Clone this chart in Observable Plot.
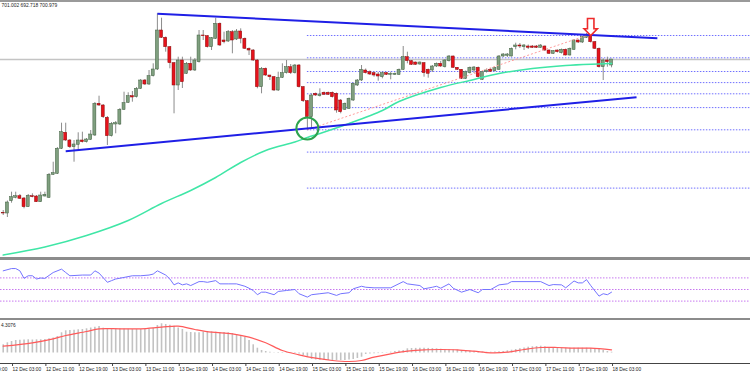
<!DOCTYPE html>
<html><head><meta charset="utf-8">
<script src="https://cdn.jsdelivr.net/npm/d3@7"></script>
<script src="https://cdn.jsdelivr.net/npm/@observablehq/plot@0.6"></script>
<style>
body{margin:0;background:#fff;}
#wrap{position:relative;width:750px;height:375px;overflow:hidden;background:#fff;font-family:"Liberation Sans",Arial,sans-serif;}
#wrap svg{position:absolute;left:0;overflow:visible;}
.sep{position:absolute;left:0;width:750px;}
</style></head><body><div id="wrap"></div>
<script>
// ---- candle data (hourly, index 0 = 12 Dec 01:00) ----
const open = [547.5,547.0,559.3,562.7,564.3,562.0,553.3,564.3,564.0,558.3,
564.0,562.7,585.7,586.7,611.7,627.7,620.0,613.3,615.7,620.0,
618.3,620.7,625.0,656.7,655.0,642.7,624.3,636.0,636.0,650.7,
657.7,664.3,663.3,671.7,680.0,676.0,684.3,691.0,730.0,722.7,
713.3,697.3,675.0,700.0,686.7,696.7,690.0,698.3,725.0,724.3,
713.3,721.7,736.7,720.0,719.0,728.3,721.0,729.0,721.7,711.7,
710.0,700.0,673.3,691.7,685.0,683.3,670.0,682.7,687.3,693.3,
687.3,695.0,673.3,659.3,643.3,666.7,664.3,667.7,667.7,667.7,
666.7,660.0,650.7,651.7,660.0,675.0,680.0,690.0,688.3,687.3,
686.0,683.3,687.3,685.7,685.7,685.7,690.7,703.3,699.3,698.0,
696.0,697.3,690.7,690.0,694.0,696.7,693.3,699.3,704.0,692.7,
690.7,681.7,687.3,690.0,692.7,680.7,688.3,690.7,689.3,690.7,
704.0,704.7,704.0,713.3,715.0,713.3,714.0,714.0,714.0,712.7,
714.0,710.0,706.7,710.0,707.3,710.7,705.0,710.7,720.0,718.0,
722.7,725.0,718.3,711.7,693.3,700.0,695.0];
const close = [547.0,558.0,563.3,564.3,561.7,553.3,564.7,563.3,558.3,565.0,
565.7,585.7,587.3,611.7,628.3,620.0,613.3,616.0,620.0,618.3,
621.0,626.0,656.7,655.0,643.3,624.3,636.7,637.3,650.7,657.3,
664.3,663.0,671.7,680.0,676.0,684.3,691.0,730.0,722.7,713.3,
697.3,675.0,700.0,678.3,696.7,690.0,700.0,725.0,724.3,713.3,
722.3,736.7,715.0,718.3,728.3,720.0,729.0,721.7,711.7,710.0,
700.0,673.3,691.7,685.0,683.3,670.0,682.7,687.3,693.3,687.3,
695.0,673.3,659.3,643.3,665.0,665.0,666.0,665.7,665.7,663.3,
650.0,648.3,656.7,661.7,676.7,680.0,690.7,687.3,686.0,685.0,
684.0,687.3,685.7,686.7,686.7,690.7,703.3,699.3,695.7,695.7,
698.0,687.3,686.7,694.0,696.7,694.0,700.0,704.0,692.7,690.7,
681.7,688.3,692.7,693.0,683.3,688.3,690.0,688.7,692.3,704.0,
706.0,706.0,711.7,715.0,714.0,715.0,712.7,712.7,712.7,715.0,
710.0,706.7,709.3,708.3,710.7,705.0,711.7,720.0,718.0,723.3,
725.0,718.3,711.7,693.3,700.0,698.3,701.0];
const high = [550.0,559.5,568.3,568.3,566.0,563.0,566.0,566.7,565.0,568.3,
568.3,587.0,598.3,613.0,637.3,637.3,621.0,620.0,627.7,628.3,
622.0,630.0,658.0,664.3,656.0,644.0,638.0,639.0,652.0,668.3,
667.7,669.0,673.0,681.0,681.0,690.0,696.7,746.7,742.3,723.5,
714.0,698.0,703.3,703.3,698.0,703.3,702.0,730.0,730.0,725.0,
723.0,742.3,737.5,728.3,730.0,730.0,731.0,731.7,722.5,712.5,
711.0,701.0,693.0,692.5,685.0,684.0,688.3,696.7,700.0,696.0,
696.0,696.0,674.0,660.0,666.7,667.5,671.7,668.5,668.5,668.5,
667.5,661.0,657.5,662.5,677.5,681.0,695.0,691.5,689.5,688.5,
688.0,688.3,688.0,688.3,687.5,691.5,714.0,708.3,700.0,698.5,
698.5,698.0,691.5,695.0,697.5,699.0,701.0,705.0,704.5,693.0,
691.0,689.5,693.5,694.0,693.5,689.0,691.5,692.0,693.0,705.0,
707.0,707.0,712.5,717.3,717.0,716.0,715.5,715.0,715.0,716.0,
714.5,710.5,710.0,710.5,711.5,711.5,712.5,721.0,720.5,724.0,
727.0,726.7,719.0,712.5,701.7,703.3,701.0];
const low = [545.0,543.0,557.3,561.7,561.0,551.7,553.0,562.7,558.0,558.0,
563.5,562.0,585.0,586.0,611.0,619.0,612.0,598.3,610.0,617.5,
617.5,620.0,624.0,654.0,642.0,615.0,623.5,626.7,635.0,650.0,
657.0,658.3,662.5,671.0,675.0,675.0,683.5,690.0,722.0,708.3,
691.7,646.7,670.0,672.0,686.0,689.0,689.0,697.5,720.0,712.5,
710.0,721.0,714.0,716.7,718.0,706.7,720.0,716.7,711.0,705.0,
699.0,671.7,666.7,684.0,680.0,669.0,669.0,682.0,686.5,686.0,
686.5,672.5,658.0,630.0,631.7,664.0,663.5,665.0,665.0,662.5,
647.3,646.7,650.0,651.0,659.0,674.0,679.0,686.5,685.0,683.3,
679.3,681.7,685.0,680.7,685.0,685.0,690.0,696.7,695.0,695.0,
695.3,683.3,682.3,688.0,693.0,693.0,692.5,698.5,692.0,690.0,
681.0,681.0,686.5,687.0,682.5,680.0,687.5,688.0,688.5,690.0,
703.0,703.0,703.5,710.7,712.0,710.0,711.0,712.0,712.0,712.0,
709.0,706.0,706.0,707.5,706.5,704.5,704.5,710.0,717.0,717.0,
722.0,717.5,711.0,692.5,680.0,693.3,692.7];
const headerText = "701.002 692.718 700.979";
const lastClose = 700.979;

// moving average (read at sample candles)
const maIdx = [0,10,20,30,38,45,51,57,63,70,73,76,83,91,95,105,113,119,127,135,143,146];
const maVal = [505.5,513.5,525,540,557,570,583,598,610,618.5,623,627,637,650,659,673,681,687,692,695,696.5,697];

// drawn objects
const trendStartIdx = [37, 15];
const trendStartPrice = [746.7, 609.3];
const trendEndIdx = [157, 152];
const trendEndPrice = [722.3, 663.3];
const fibStartIdx = 73, fibEndIdx = 140;
const fibLowPrice = 630.7, fibHighPrice = 725.0;
const fibLevels = [725.0, 702.7, 689.0, 677.9, 666.7, 652.9, 630.7, 608.4, 572.4];
const circleIdx = [73], circlePrice = [632];
const arrowIdx = [141], arrowPrice = [733.5];

// RSI
const rsiLevels = [70, 50, 30];
const rsiIdx = [0,2,3,4,5,6,7,8,9,10,12,14,15,16,19,21,22,23,25,26,27,29,31,33,35,36,37,39,40,41,42,43,44,45,47,48,49,51,52,54,56,58,59,60,61,62,63,65,66,68,70,71,73,74,76,78,80,81,83,84,86,87,89,93,96,97,100,101,103,104,105,107,108,110,112,114,115,117,119,121,122,129,131,132,134,135,137,138,139,140,141,143,144,145,146];
const rsiVal = [82.2,86.1,86.1,82.2,69.2,73.7,73.7,68.1,69.8,69.2,79.3,85.1,79.3,73.7,74.9,74.9,82.2,78.3,62.4,65.3,68.1,70.8,73.7,73.7,74.9,76.6,82.2,74.9,68.1,58.0,61.4,58.0,59.7,56.8,63.6,63.6,62.4,65.3,59.7,59.7,59.7,55.6,52.2,48.3,41.0,45.4,45.4,41.0,46.6,48.3,50.0,42.7,36.9,41.0,42.7,44.4,39.8,42.7,44.4,51.2,55.6,53.9,52.9,52.9,63.6,59.7,56.8,51.2,53.9,55.6,52.2,59.7,52.2,45.4,50.0,44.4,50.0,50.0,58.0,59.7,63.6,63.6,56.8,58.5,58.0,52.9,64.7,61.4,61.4,67.0,56.8,38.6,42.7,41.0,45.4];

// MACD
const macdLabel = "4.3076";
const macdHist = [8.2,10.2,11.5,12.5,12.8,13.0,13.2,13.0,13.2,13.2,
13.5,14.2,15.0,16.5,20.2,22.2,22.5,22.8,23.2,23.5,
24.2,25.0,25.8,26.5,24.8,23.8,23.5,24.0,24.2,24.0,
23.8,23.5,23.5,23.5,23.5,24.0,24.8,27.5,29.2,28.5,
27.8,26.8,25.0,23.5,20.8,20.5,20.2,20.2,21.0,21.5,
21.2,20.8,20.5,20.4,20.2,19.5,18.2,17.0,15.8,12.5,
8.2,4.8,2.5,1.5,0.8,-0.3,-0.5,-0.5,-0.4,-0.5,
-0.6,-1.0,-2.5,-4.2,-6.5,-7.0,-7.3,-7.5,-7.5,-7.5,
-7.6,-7.5,-7.5,-7.0,-6.5,-5.5,-4.2,-1.5,-1.0,-0.8,
-0.6,-0.5,-0.3,0.8,1.5,2.0,2.5,4.2,4.5,4.6,
4.8,4.8,4.6,4.4,4.2,3.8,3.5,3.2,3.0,2.8,
2.5,2.2,1.8,1.5,1.2,1.0,0.8,0.8,1.0,1.2,
1.5,2.2,2.8,3.5,4.2,5.0,5.8,6.2,6.5,6.8,
6.2,5.5,5.2,5.0,4.8,4.8,4.8,4.8,4.8,4.8,
4.8,4.5,4.0,3.5,2.5,1.5,0.8];
const sigIdx = [0,7,12,15,20,23,28,33,38,42,46,50,55,59,63,67,71,75,79,83,86,89,93,97,101,105,109,113,117,121,125,129,133,137,141,146];
const sigVal = [6.8,10.2,14.2,17.5,21.5,24.2,24.2,24.2,25.8,26.8,23.5,20.8,19.2,15.8,10.2,2.5,-1.8,-5.2,-7.5,-8.5,-7.5,-4.2,-0.8,1.8,3.2,3.5,3.2,1.8,0.2,0.8,3.5,5.5,5.5,4.8,4.8,3.2];

// time axis
const tickIdx = [-6,2,10,18,26,34,42,50,58,66,74,82,90,98,106,114,122,130,138,146];
const tickLabels = ["11 Dec 19:00","12 Dec 03:00","12 Dec 11:00","12 Dec 19:00","13 Dec 03:00","13 Dec 11:00","13 Dec 19:00","14 Dec 03:00","14 Dec 11:00","14 Dec 19:00","15 Dec 03:00","15 Dec 11:00","15 Dec 19:00","16 Dec 03:00","16 Dec 11:00","16 Dec 19:00","17 Dec 03:00","17 Dec 11:00","17 Dec 19:00","18 Dec 03:00"];

// ---- build ----
const xDomain = [-0.65, 179.35];
const candles = open.map((o, k) => ({i: k, open: o, high: high[k], low: low[k], close: close[k]}));
const bullFill = "#7f9f7f", bullStroke = "#3f5f3f", bearFill = "#e5121b", bearStroke = "#8a0a0a";

const downArrow = {
  draw(ctx, size) {
    const r = Math.sqrt(size / Math.PI);
    const p = [[-0.38,-1],[0.38,-1],[0.38,0.2],[0.78,0.2],[0,1],[-0.78,0.2],[-0.38,0.2]];
    ctx.moveTo(p[0][0]*r, p[0][1]*r);
    for (let k = 1; k < p.length; k++) ctx.lineTo(p[k][0]*r, p[k][1]*r);
    ctx.closePath();
  }
};

const font = "Liberation Sans, Arial, sans-serif";
const wrap = document.getElementById("wrap");

const mainPlot = Plot.plot({
  width: 750, height: 257, margin: 0,
  style: {fontFamily: font, background: "transparent"},
  x: {domain: xDomain, axis: null},
  y: {domain: [503, 760], axis: null},
  marks: [
    Plot.ruleY([lastClose], {stroke: "#c4c4c4", strokeWidth: 1.5}),
    Plot.ruleY(fibLevels, {y: d => d, x1: () => fibStartIdx, x2: () => xDomain[1], stroke: "#7070ff", strokeWidth: 1, strokeDasharray: "1.5,1.5"}),
    Plot.ruleX(candles, {x: "i", y1: "low", y2: "high", stroke: "#8c8c8c", strokeWidth: 1}),
    Plot.rect(candles, {x1: d => d.i - 0.36, x2: d => d.i + 0.36, y1: "open", y2: "close",
      fill: d => d.close >= d.open ? bullFill : bearFill,
      stroke: d => d.close >= d.open ? bullStroke : bearStroke, strokeWidth: 0.5}),
    Plot.line(maIdx, {x: d => d, y: (d, k) => maVal[k], curve: "catmull-rom", stroke: "#3fe6a6", strokeWidth: 1.5}),
    Plot.link([fibStartIdx], {x1: d => d, y1: () => fibLowPrice, x2: () => fibEndIdx, y2: () => fibHighPrice, stroke: "#ff9c9c", strokeWidth: 1, strokeDasharray: "2,2"}),
    Plot.link(trendStartIdx, {x1: d => d, y1: (d, k) => trendStartPrice[k], x2: (d, k) => trendEndIdx[k], y2: (d, k) => trendEndPrice[k], stroke: "#1f1fe6", strokeWidth: 2}),
    Plot.dot(circleIdx, {x: d => d, y: (d, k) => circlePrice[k], r: 11, stroke: "#2ea44f", strokeWidth: 2, fill: "none"}),
    Plot.dot(arrowIdx, {x: d => d, y: (d, k) => arrowPrice[k], r: 8.5, symbol: downArrow, fill: "white", stroke: "#ee2b2b", strokeWidth: 1.6}),
    Plot.text([headerText], {text: d => d, frameAnchor: "top-left", dx: 1, dy: 3, lineAnchor: "top", textAnchor: "start", fontSize: 4.9, fill: "#222"})
  ]
});
mainPlot.style.top = "0px";
wrap.appendChild(mainPlot);

const rsiPlot = Plot.plot({
  width: 750, height: 58, margin: 0,
  style: {fontFamily: font, background: "transparent"},
  x: {domain: xDomain, axis: null},
  y: {domain: [0, 100], axis: null},
  marks: [
    Plot.ruleY(rsiLevels, {stroke: "#c878f0", strokeWidth: 1, strokeDasharray: "1.5,1.5"}),
    Plot.line(rsiIdx, {x: d => d, y: (d, k) => rsiVal[k], stroke: "#7474ff", strokeWidth: 1})
  ]
});
rsiPlot.style.top = "260px";
wrap.appendChild(rsiPlot);

const labelMap = new Map(tickIdx.map((d, k) => [d, tickLabels[k]]));
const macdPlot = Plot.plot({
  width: 750, height: 55, marginTop: 0, marginLeft: 0, marginRight: 0, marginBottom: 12,
  style: {fontFamily: font, background: "transparent", fontSize: "4.8px", color: "#222"},
  x: {domain: xDomain},
  y: {domain: [-10.5, 32.5], axis: null},
  marks: [
    Plot.ruleX(macdHist, {x: (d, k) => k, y1: 0, y2: d => d, stroke: "#c2c2c2", strokeWidth: 1.6}),
    Plot.line(sigIdx, {x: d => d, y: (d, k) => sigVal[k], curve: "catmull-rom", stroke: "#ff5a5a", strokeWidth: 1.2}),
    Plot.text([macdLabel], {text: d => d, frameAnchor: "top-left", dx: 0.5, dy: 3, lineAnchor: "top", textAnchor: "start", fontSize: 4.8, fill: "#222"}),
    Plot.frame({anchor: "bottom", stroke: "#444"}),
    Plot.axisX(tickIdx, {tickFormat: d => labelMap.get(d), tickSize: 3, tickPadding: 1, textAnchor: "start", dx: 1, fontSize: 4.8, stroke: "#444", fill: "#222"})
  ]
});
macdPlot.style.top = "320px";
wrap.appendChild(macdPlot);

// window frame separators
[[0, 1.5, "#9a9a9a"], [257, 3, "#8c8c8c"], [318, 2, "#8c8c8c"]].forEach(([t, h, c]) => {
  const d = document.createElement("div");
  d.className = "sep";
  d.style.top = t + "px"; d.style.height = h + "px"; d.style.background = c;
  wrap.appendChild(d);
});
</script>
</body></html>
